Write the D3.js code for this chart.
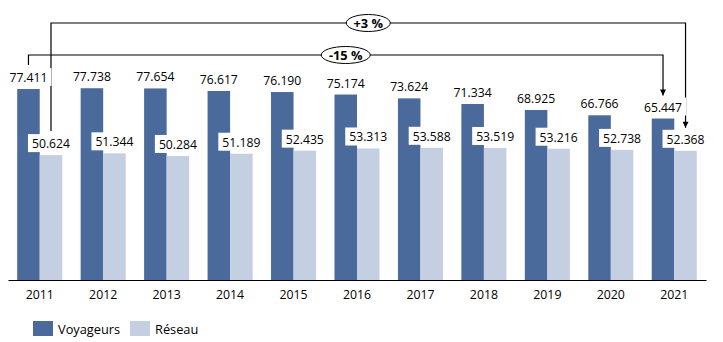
<!DOCTYPE html>
<html><head><meta charset="utf-8">
<script src="https://cdn.jsdelivr.net/npm/d3@7"></script>
<style>body{margin:0;background:#fff}svg{display:block;font-family:"Open Sans",sans-serif}</style>
</head><body><svg id="c" width="723" height="342"></svg>
<script>
const years = ["2011","2012","2013","2014","2015","2016","2017","2018","2019","2020","2021"];
const voyageurs = [77.411,77.738,77.654,76.617,76.190,75.174,73.624,71.334,68.925,66.766,65.447];
const reseau = [50.624,51.344,50.284,51.189,52.435,53.313,53.588,53.519,53.216,52.738,52.368];
const seriesNames = ["Voyageurs","Réseau"];
const seriesColors = ["#4a6a9b","#c4cfe1"];
const changeLabels = ["+3 %","-15 %"];

const svg = d3.select("#c");
const x = d3.scaleBand().domain(years).range([8,706]).paddingInner(0.29).paddingOuter(0.145);
const xs = d3.scaleBand().domain(seriesNames).range([0,x.bandwidth()]);
const y = d3.scaleLinear().domain([0,100]).range([280,33.3]);
const fmt = d3.format(".3f");

const data = years.map((yr,i)=>({yr, vals:[voyageurs[i],reseau[i]]}));

// bars
const g = svg.append("g");
data.forEach(d=>{
  d.vals.forEach((v,j)=>{
    g.append("rect").attr("x",x(d.yr)+xs(seriesNames[j])).attr("width",xs.bandwidth())
     .attr("y",y(v)).attr("height",y(0)-y(v)).attr("fill",seriesColors[j]);
  });
});

// axis
const ax = svg.append("g").attr("transform","translate(0,280)").call(d3.axisBottom(x).tickSize(0).tickPadding(10));
ax.select(".domain").attr("stroke","#000").attr("stroke-width",1.2);
ax.selectAll("text").attr("font-size","12.3px").attr("fill","#000").attr("font-family","Open Sans");

// connectors
const defs = svg.append("defs");
defs.append("marker").attr("id","ar").attr("viewBox","0 0 10 10").attr("refX",10).attr("refY",5)
  .attr("markerWidth",7).attr("markerHeight",6).attr("markerUnits","userSpaceOnUse").attr("orient","auto")
  .append("path").attr("d","M0,0L10,5L0,10z").attr("fill","#000");
const first = data[0], last = data[data.length-1];
const cx = (d,j)=>x(d.yr)+xs(seriesNames[j])+xs.bandwidth()/2;
// +3% on Réseau (j=1), -15% on Voyageurs (j=0)
const conns = [{j:1,lvl:23,label:changeLabels[0],rx:22},{j:0,lvl:55,label:changeLabels[1],rx:24.5}];
const cg = svg.append("g");
conns.forEach(c=>{
  const x0 = cx(first,c.j), x1 = cx(last,c.j);
  const y0 = y(first.vals[c.j]) - 24, y1 = y(last.vals[c.j]) - 23;
  cg.append("path").attr("d",`M${x0},${y0}V${c.lvl}H${x1}V${y1}`)
    .attr("fill","none").attr("stroke","#000").attr("stroke-width",1.2).attr("marker-end","url(#ar)");
});

// labels with white boxes
const lg = svg.append("g");
data.forEach(d=>{
  d.vals.forEach((v,j)=>{
    const bx = cx(d,j), by = y(v)-7;
    const t = lg.append("text").attr("x",bx).attr("y",by).attr("text-anchor","middle")
      .attr("font-size","12.2px").attr("fill","#000").text(fmt(v));
    const w = t.node().getComputedTextLength();
    lg.insert("rect","text").attr("x",bx-w/2-4).attr("y",by-14).attr("width",w+8).attr("height",18).attr("fill","#fff");
  });
});
lg.selectAll("text").raise();

// ellipses
conns.forEach(c=>{
  const mx = (cx(first,c.j)+cx(last,c.j))/2;
  svg.append("ellipse").attr("cx",mx).attr("cy",c.lvl).attr("rx",c.rx).attr("ry",8.5)
    .attr("fill","#fff").attr("stroke","#000").attr("stroke-width",1);
  svg.append("text").attr("x",mx).attr("y",c.lvl+4.5).attr("text-anchor","middle")
    .attr("font-size","12.8px").attr("font-weight","bold").attr("fill","#000").text(c.label);
});

// legend
const legX = [33,130], legTX = [58,155];
seriesNames.forEach((n,j)=>{
  svg.append("rect").attr("x",legX[j]).attr("y",321).attr("width",20).attr("height",15).attr("fill",seriesColors[j]);
  svg.append("text").attr("x",legTX[j]).attr("y",334).attr("font-size","12.8px").attr("fill","#000").text(n);
});
</script></body></html>
